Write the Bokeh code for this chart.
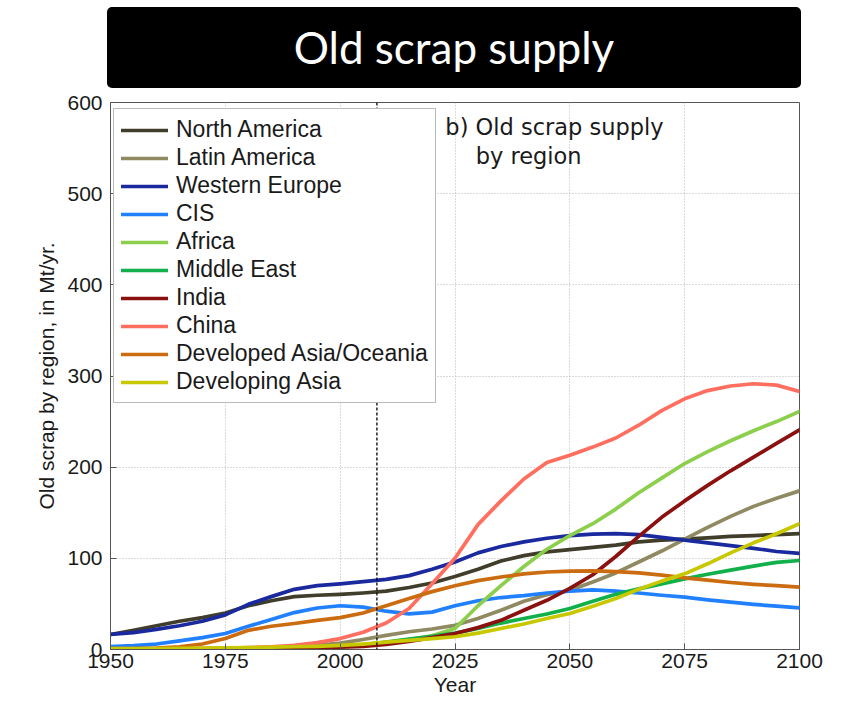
from bokeh.plotting import figure
from bokeh.models import Div, Span, Label, FixedTicker, Range1d
from bokeh.layouts import column
from bokeh.embed import file_html
from bokeh.resources import INLINE

# ---------------- data ----------------
years = list(range(1950, 2101, 5))

north_america = [16.5, 21, 26, 31, 35, 40, 48, 53.5, 58, 59.5,
                 60.5, 62, 64, 68, 73, 80, 88, 97, 103, 107,
                 109.5, 112, 114.5, 118, 120, 121, 122.5, 124, 125, 126, 127]
latin_america = [0.5, 0.5, 0.6, 0.8, 1, 1.2, 1.5, 2, 3, 4.5,
                 7, 11, 15.5, 19.5, 22.5, 26.5, 34, 43, 53, 60,
                 65, 74, 84, 96, 108, 121, 134, 146, 157, 166, 174]
western_europe = [16.5, 18.5, 22, 26, 31, 38, 49.5, 58, 66, 70,
                  72, 74.5, 77, 81, 88, 96, 106, 113, 118, 122,
                  125, 126.5, 127, 126, 123, 120, 117, 114, 111, 107.5, 105.5]
cis = [3.3, 4.2, 6, 9.5, 13, 17.5, 25.5, 33, 40.5, 45.5,
       48, 46.5, 42, 39, 41, 48, 53.5, 57, 59, 62,
       64, 65.5, 64, 62, 59.5, 57.4, 54.5, 52, 49.5, 47.5, 45.7]
africa = [0.3, 0.3, 0.4, 0.5, 0.6, 0.8, 1, 1.3, 1.8, 2.5,
          3.5, 5, 7.5, 11, 15, 23, 48, 70, 91, 110,
          125, 138, 154, 172, 188, 204, 217, 229, 240, 250, 261]
middle_east = [0.3, 0.3, 0.4, 0.5, 0.6, 0.8, 1, 1.3, 1.8, 2.5,
               3.5, 5, 8, 11.5, 14.5, 18, 23, 29, 34, 39,
               45, 53, 60.5, 66.5, 72, 77.5, 82.5, 87, 91.5, 95.5, 97.6]
india = [0.3, 0.3, 0.3, 0.4, 0.5, 0.6, 0.8, 1, 1.3, 1.8,
         2.5, 3.5, 5.5, 9, 13, 17.5, 24, 32, 43, 54,
         67, 82, 102, 124, 145, 163, 180, 196, 211, 226, 241]
china = [0.5, 0.5, 0.5, 0.7, 1, 1.3, 2, 3, 4.5, 7.5,
         12, 19, 29, 45, 72, 100, 137, 163, 187, 205,
         213, 222, 232, 246, 262, 275, 284, 289, 291.5, 290, 283]
developed_asia_oceania = [1, 1, 1.5, 3, 6, 12, 21, 25.5, 28.5, 32,
                          35, 40, 48, 56, 63.5, 70, 75.5, 79.5, 83, 85,
                          86, 86.2, 85.5, 84, 81.5, 78.6, 76, 73.5, 71.5, 70, 68.4]
developing_asia = [1, 1, 1, 1.2, 1.5, 1.8, 2, 2.5, 3, 3.5,
                   4.5, 6, 8, 10, 12, 14, 18, 23, 28, 34,
                   39.5, 47.5, 56, 66, 75, 83, 94, 106, 117, 127, 138]

region_names = ["North America", "Latin America", "Western Europe", "CIS", "Africa",
                "Middle East", "India", "China", "Developed Asia/Oceania", "Developing Asia"]
region_values = [north_america, latin_america, western_europe, cis, africa,
                 middle_east, india, china, developed_asia_oceania, developing_asia]
region_colors = ["#403d2b", "#8f8a62", "#1a2a9e", "#2080ff", "#8ccf4d",
                 "#12b04a", "#8b1010", "#ff6e5e", "#cc6c10", "#c8c800"]

x_ticks = [1950, 1975, 2000, 2025, 2050, 2075, 2100]
y_ticks = [0, 100, 200, 300, 400, 500, 600]
marker_year = 2008

title_text = "Old scrap supply"
panel_note_1 = "b) Old scrap supply"
panel_note_2 = "by region"

# ---------------- figure ----------------
p = figure(width=840, height=616,
           x_range=Range1d(1950, 2100), y_range=Range1d(0, 600),
           output_backend="svg", toolbar_location=None,
           min_border_left=110, min_border_right=41,
           min_border_top=14, min_border_bottom=55)

for name, vals, col in zip(region_names, region_values, region_colors):
    p.line(years, vals, line_color=col, line_width=3.7, legend_label=name,
           line_join="round", line_cap="round")

p.add_layout(Span(location=marker_year, dimension="height", line_color="black",
                  line_width=1.3, line_dash="3 2"))

# axes
for ax in (p.xaxis, p.yaxis):
    ax.major_tick_in = 6
    ax.major_tick_out = 0
    ax.minor_tick_line_color = None
    ax.axis_line_color = "#555555"
    ax.major_tick_line_color = "#555555"
    ax.major_label_text_font = "Liberation Sans"
    ax.major_label_text_font_size = "21px"
    ax.major_label_text_color = "#1a1a1a"
    ax.axis_label_text_font = "Liberation Sans"
    ax.axis_label_text_font_size = "21px"
    ax.axis_label_text_font_style = "normal"
    ax.axis_label_text_color = "#1a1a1a"

p.xaxis.ticker = FixedTicker(ticks=x_ticks)
p.yaxis.ticker = FixedTicker(ticks=y_ticks)
p.xaxis.axis_label = "Year"
p.yaxis.axis_label = "Old scrap by region, in Mt/yr."
p.xaxis.major_label_standoff = 4
p.xaxis.axis_label_standoff = 2
p.yaxis.major_label_standoff = 8
p.yaxis.axis_label_standoff = 6

p.grid.grid_line_color = "#b5b5b5"
p.grid.grid_line_dash = "1 2"
p.grid.grid_line_width = 1
p.outline_line_color = "#555555"
p.outline_line_width = 1
p.background_fill_color = "white"

# panel note
p.add_layout(Label(x=2022.9, y=572.6, text=panel_note_1, text_font="DejaVu Sans",
                   text_font_size="22.5px", text_color="#1a1a1a",
                   text_baseline="middle", text_align="left"))
p.add_layout(Label(x=2029.5, y=541.8, text=panel_note_2, text_font="DejaVu Sans",
                   text_font_size="22.5px", text_color="#1a1a1a",
                   text_baseline="middle", text_align="left"))

# legend
lg = p.legend[0]
lg.location = (3, 246)
lg.label_text_font = "Liberation Sans"
lg.label_text_font_size = "23px"
lg.label_text_color = "#1a1a1a"
lg.glyph_width = 47
lg.glyph_height = 20
lg.label_standoff = 8
lg.padding = 7
lg.spacing = 1
lg.margin = 0
lg.border_line_color = "#777777"
lg.border_line_width = 1
lg.background_fill_color = "white"
lg.background_fill_alpha = 1.0

# title box
title_div = Div(
    text=('<div style="width:694px;height:81px;background:#000;color:#fff;'
          'border-radius:5px;display:flex;align-items:center;justify-content:center;'
          'font-family:Lato;font-size:44px;">' + title_text + '</div>'),
    width=694, height=81, margin=(7, 0, 0, 107))

layout = column(title_div, p, spacing=0)

open("out.html", "w").write(file_html(layout, INLINE))
